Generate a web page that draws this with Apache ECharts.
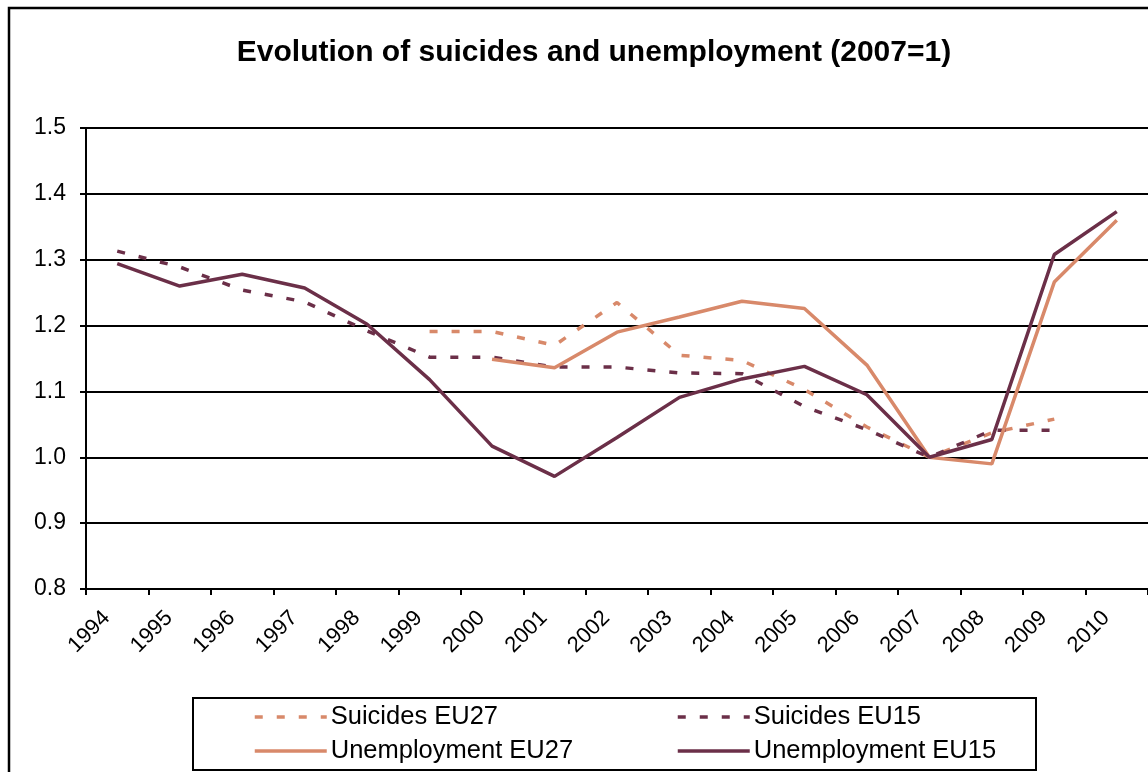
<!DOCTYPE html>
<html>
<head>
<meta charset="utf-8">
<script src="https://cdn.jsdelivr.net/npm/echarts@6/dist/echarts.min.js"></script>
<style>
  html, body { margin: 0; padding: 0; background: #fff; }
  #chart { width: 1148px; height: 772px; }
</style>
</head>
<body>
<div id="chart"></div>
<script>
// Years on the category axis
const years = ['1994','1995','1996','1997','1998','1999','2000','2001','2002',
               '2003','2004','2005','2006','2007','2008','2009','2010'];

// Indices with 2007 = 1
const suicidesEU27 = [null, null, null, null, null, 1.191, 1.191, 1.170, 1.235,
                      1.155, 1.147, 1.103, 1.046, 1.000, 1.037, 1.058, null];
const suicidesEU15 = [1.313, 1.289, 1.254, 1.236, 1.192, 1.152, 1.152, 1.137, 1.137,
                      1.128, 1.127, 1.077, 1.042, 1.000, 1.041, 1.041, null];
const unemploymentEU27 = [null, null, null, null, null, null, 1.149, 1.136, 1.190,
                          1.213, 1.237, 1.226, 1.140, 1.000, 0.990, 1.266, 1.360];
const unemploymentEU15 = [1.294, 1.260, 1.278, 1.257, 1.202, 1.118, 1.017, 0.971, 1.030,
                          1.091, 1.119, 1.138, 1.095, 1.000, 1.027, 1.308, 1.373];

const yTicks = { min: 0.8, max: 1.5, step: 0.1 };

const seriesNames = ['Suicides EU27', 'Suicides EU15', 'Unemployment EU27', 'Unemployment EU15'];

const ORANGE = '#D8896A';
const PLUM = '#6B2F48';
const FONT = 'Arimo, "Liberation Sans", Arial, sans-serif';

const chart = echarts.init(document.getElementById('chart'), null, { renderer: 'canvas' });

function lineSeries(name, data, color, dashed) {
  return {
    name: name,
    type: 'line',
    data: data,
    symbol: 'none',
    connectNulls: false,
    lineStyle: { color: color, width: 3.5, type: dashed ? [8, 14] : 'solid', cap: 'butt' },
    itemStyle: { color: color },
    emphasis: { disabled: true },
    animation: false
  };
}

// one legend entry per box cell: two columns, two rows
const legendCells = [
  { left: 253, top: 704 },
  { left: 676, top: 704 },
  { left: 253, top: 738 },
  { left: 676, top: 738 }
];
const legends = seriesNames.map((name, i) => ({
  data: [name],
  left: legendCells[i].left,
  top: legendCells[i].top,
  itemWidth: 72,
  itemHeight: 22,
  itemGap: 4,
  padding: 0,
  itemStyle: { opacity: 0, borderWidth: 0 },
  lineStyle: { width: 3.5 },
  textStyle: { fontFamily: FONT, fontSize: 25.5, color: '#000', padding: [0, 0, 0, -1] },
  selectedMode: false
}));

chart.setOption({
  backgroundColor: '#fff',
  animation: false,
  title: {
    text: 'Evolution of suicides and unemployment (2007=1)',
    left: 589,
    textAlign: 'center',
    top: 33,
    textStyle: { fontFamily: FONT, fontSize: 30, fontWeight: 'bold', color: '#000' }
  },
  graphic: [
    {
      type: 'rect',
      shape: { x: 9, y: 8, width: 1160, height: 790 },
      style: { fill: null, stroke: '#000', lineWidth: 2.5 },
      silent: true
    },
    {
      type: 'rect',
      shape: { x: 193, y: 698, width: 843, height: 72 },
      style: { fill: null, stroke: '#000', lineWidth: 2 },
      silent: true
    }
  ],
  legend: legends,
  grid: { left: 86, top: 128, right: -4, bottom: 183, containLabel: false },
  xAxis: {
    type: 'category',
    data: years,
    boundaryGap: true,
    axisLine: { lineStyle: { color: '#000', width: 2 } },
    axisTick: { show: true, length: 6, inside: false, alignWithLabel: false,
                lineStyle: { color: '#000', width: 2 } },
    axisLabel: {
      rotate: 45, interval: 0, margin: 15,
      fontFamily: FONT, fontSize: 22, color: '#000',
      padding: [0, 15, 29, 0]
    },
    splitLine: { show: false }
  },
  yAxis: {
    type: 'value',
    min: yTicks.min, max: yTicks.max, interval: yTicks.step,
    axisLine: { show: true, lineStyle: { color: '#000', width: 2 } },
    axisTick: { show: true, length: 6, inside: false, lineStyle: { color: '#000', width: 2 } },
    axisLabel: {
      margin: 20, fontFamily: FONT, fontSize: 23, color: '#000',
      formatter: v => v.toFixed(1)
    },
    splitLine: { show: true, lineStyle: { color: '#000', width: 2 } }
  },
  series: [
    lineSeries(seriesNames[0], suicidesEU27, ORANGE, true),
    lineSeries(seriesNames[1], suicidesEU15, PLUM, true),
    lineSeries(seriesNames[2], unemploymentEU27, ORANGE, false),
    lineSeries(seriesNames[3], unemploymentEU15, PLUM, false)
  ]
});
</script>
</body>
</html>
